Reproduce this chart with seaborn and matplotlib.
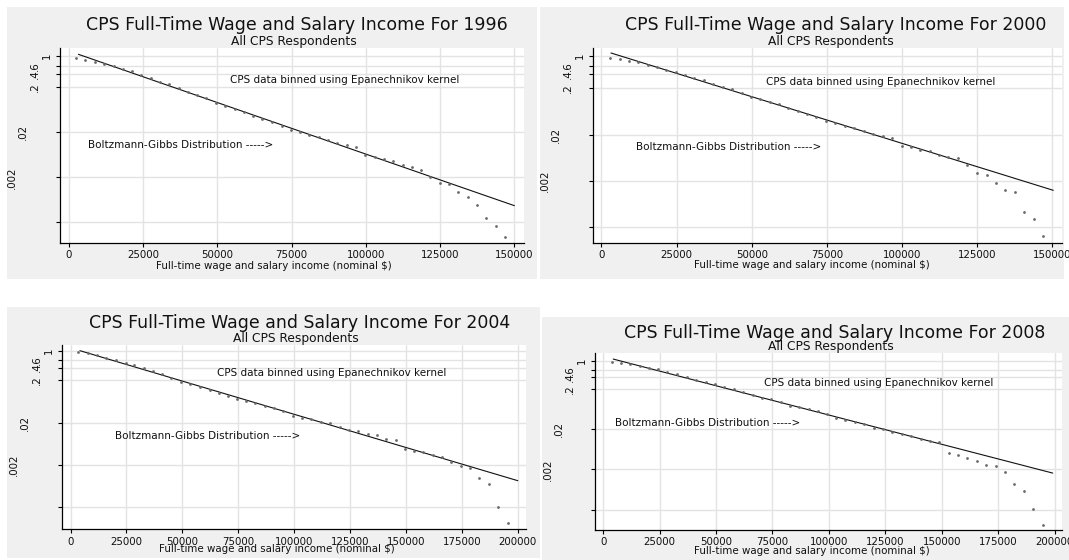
import numpy as np
import pandas as pd
import matplotlib
matplotlib.use("Agg")
import matplotlib.pyplot as plt
import seaborn as sns
from matplotlib.patches import Rectangle
from matplotlib.ticker import NullLocator, FixedLocator

# ---------------- data ----------------
years = ["1996", "2000", "2004", "2008"]

x_1996 = [2300, 5600, 8700, 11900, 15100, 18100, 21200, 24300, 27600, 30700, 33800, 37000,
          40100, 43200, 46300, 49500, 52700, 55800, 59000, 62100, 65200, 68300, 71600, 74700,
          77800, 81000, 84100, 87200, 90400, 93500, 96700, 99800, 103100, 106200, 109300,
          112400, 115500, 118600, 121700, 124900, 128000, 131100, 134300, 137400, 140600,
          143700, 146900]
y_1996 = [0.90, 0.83, 0.75, 0.66, 0.59, 0.52, 0.46, 0.37, 0.33, 0.27, 0.24, 0.19, 0.16, 0.136,
          0.115, 0.090, 0.077, 0.066, 0.057, 0.046, 0.040, 0.034, 0.028, 0.023, 0.0205, 0.0173,
          0.0158, 0.0138, 0.0117, 0.0105, 0.0095, 0.0063, 0.0058, 0.0051, 0.0047, 0.0038, 0.0034,
          0.0030, 0.0020, 0.00153, 0.00146, 0.00097, 0.00075, 0.00048, 0.00025, 0.00017, 0.000097]

x_2000 = [2800, 6100, 9200, 12300, 15400, 18400, 21600, 24700, 27900, 30900, 34000, 37200,
          40400, 43400, 46600, 49700, 52900, 56000, 59100, 62200, 65300, 68500, 71500, 74700,
          77800, 81000, 84000, 87200, 90300, 93500, 96700, 99900, 102900, 106100, 109200,
          112200, 115400, 118600, 121700, 124900, 128100, 131100, 134300, 137500, 140700,
          143800, 146900]
y_2000 = [0.91, 0.85, 0.79, 0.73, 0.64, 0.59, 0.51, 0.45, 0.39, 0.33, 0.30, 0.25, 0.21, 0.19,
          0.161, 0.130, 0.118, 0.103, 0.093, 0.075, 0.066, 0.057, 0.047, 0.040, 0.036, 0.030,
          0.028, 0.0243, 0.0206, 0.0187, 0.0172, 0.0115, 0.0108, 0.0095, 0.0089, 0.0072, 0.0065,
          0.0061, 0.0043, 0.0030, 0.0027, 0.0018, 0.0013, 0.00113, 0.00042, 0.00030, 0.000126]

x_2004 = [3500, 7800, 12000, 16000, 20300, 24600, 28600, 32800, 36900, 40900, 44900, 49400,
          53500, 57800, 62200, 66200, 70200, 74500, 78600, 82600, 86900, 90900, 95100, 99400,
          103500, 107700, 111800, 116000, 120300, 124500, 128500, 132800, 137100, 141200,
          145400, 149500, 153700, 157800, 162000, 166200, 170300, 174600, 178600, 182800,
          186900, 191100, 195400]
y_2004 = [0.95, 0.87, 0.78, 0.68, 0.60, 0.51, 0.47, 0.38, 0.33, 0.276, 0.231, 0.185, 0.166,
          0.141, 0.120, 0.102, 0.087, 0.072, 0.066, 0.057, 0.049, 0.044, 0.038, 0.0282, 0.0258,
          0.0239, 0.0211, 0.0193, 0.0161, 0.0134, 0.0127, 0.0108, 0.0100, 0.0084, 0.0078,
          0.0047, 0.0043, 0.0041, 0.0035, 0.0031, 0.0024, 0.0019, 0.0017, 0.0010, 0.00071,
          0.00020, 0.000084]

x_2008 = [3800, 7900, 12000, 16200, 20300, 24200, 28400, 32600, 37000, 41200, 45400, 49500,
          53700, 57800, 62000, 66200, 70400, 74500, 78700, 82800, 86900, 91000, 95000, 99100,
          103200, 107300, 111400, 115700, 119800, 123900, 128000, 132300, 136400, 140700,
          144800, 148900, 153200, 157300, 161400, 165500, 169700, 173900, 178000, 182200,
          186300, 190400, 194700]
y_2008 = [0.94, 0.89, 0.81, 0.74, 0.66, 0.61, 0.52, 0.46, 0.39, 0.34, 0.30, 0.26, 0.226, 0.194,
          0.164, 0.141, 0.121, 0.114, 0.096, 0.076, 0.071, 0.063, 0.055, 0.049, 0.0385, 0.0344,
          0.0295, 0.0263, 0.0217, 0.0198, 0.0173, 0.0149, 0.0138, 0.0114, 0.0104, 0.0098,
          0.0052, 0.0047, 0.0038, 0.0032, 0.0026, 0.0024, 0.0017, 0.00087, 0.00059, 0.00021,
          0.000085]

# Boltzmann-Gibbs (exponential) fit lines: endpoints
fit_x_1996 = [3240, 150000]
fit_y_1996 = [1.089, 0.000472]
fit_x_2000 = [3180, 150300]
fit_y_2000 = [1.161, 0.00125]
fit_x_2004 = [4200, 200000]
fit_y_2004 = [1.0, 0.000855]
fit_x_2008 = [4400, 199200]
fit_y_2008 = [1.099, 0.00163]

x_ticks_150 = [0, 25000, 50000, 75000, 100000, 125000, 150000]
x_ticks_200 = [0, 25000, 50000, 75000, 100000, 125000, 150000, 175000, 200000]
y_ticks = [1, 0.6, 0.4, 0.2, 0.02, 0.002, 0.0002]
y_tick_labels = ["1", ".6", ".4", ".2", ".02", ".002", ""]

title_fmt = "CPS Full-Time Wage and Salary Income For {}"
subtitle = "All CPS Respondents"
x_label = "Full-time wage and salary income (nominal $)"
note_kernel = "CPS data binned using Epanechnikov kernel"
note_bg = "Boltzmann-Gibbs Distribution ----->"

series = {
    "1996": (x_1996, y_1996, fit_x_1996, fit_y_1996, x_ticks_150),
    "2000": (x_2000, y_2000, fit_x_2000, fit_y_2000, x_ticks_150),
    "2004": (x_2004, y_2004, fit_x_2004, fit_y_2004, x_ticks_200),
    "2008": (x_2008, y_2008, fit_x_2008, fit_y_2008, x_ticks_200),
}

# ---------------- layout (pixels, origin top-left) ----------------
W, H = 1069, 560
layout = {
    "1996": dict(box=(7, 7, 537, 279), ax=(60.2, 48.3, 523.6, 242.7), xlim=(-2900, 153100),
                 ylog=(-4.149, 0.171), title=(296.7, 25), sub=(294.1, 41.7), xlab=(274.3, 266),
                 kern=(54300, 0.29), bg=(6400, 0.0105)),
    "2000": dict(box=(540, 7, 1064, 279), ax=(593, 48.3, 1062, 242.7), xlim=(-2800, 153200),
                 ylog=(-4.035, 0.166), title=(835.3, 25), sub=(831, 41.7), xlab=(812, 265),
                 kern=(54600, 0.279), bg=(11600, 0.011)),
    "2004": dict(box=(7, 307, 540, 558), ax=(61.9, 345, 526.3, 529.3), xlim=(-3850, 203800),
                 ylog=(-4.215, 0.134), title=(300.1, 323.3), sub=(295.8, 338.3), xlab=(276.9, 549.5),
                 kern=(65400, 0.297), bg=(20000, 0.00986)),
    "2008": dict(box=(542, 317, 1069, 560), ax=(595.4, 353.3, 1061.5, 530), xlim=(-3500, 203100),
                 ylog=(-4.20, 0.184), title=(834.4, 332.7), sub=(831, 346.7), xlab=(812, 550.5),
                 kern=(71200, 0.274), bg=(5200, 0.0279)),
}

sns.set_theme(style="white")
plt.rcParams["font.family"] = ["DejaVu Sans"]

fig = plt.figure(figsize=(W / 100, H / 100), dpi=100, facecolor="white")

panel_gray = "#f0f0f0"
grid_col = "#e3e3e3"
pad_pts = [2.8, 11.5, 11.5, 11.5, 19.8, 27.7, 2.0]

for yr in years:
    xs, ys, fx, fy, xt = series[yr]
    L = layout[yr]
    bx0, by0, bx1, by1 = L["box"]
    fig.patches.append(Rectangle((bx0 / W, 1 - by1 / H), (bx1 - bx0) / W, (by1 - by0) / H,
                                 transform=fig.transFigure, facecolor=panel_gray,
                                 edgecolor="none", zorder=-10))
    ax0, ay0, ax1, ay1 = L["ax"]
    ax = fig.add_axes([ax0 / W, 1 - ay1 / H, (ax1 - ax0) / W, (ay1 - ay0) / H])
    ax.set_zorder(5)
    ax.set_facecolor("white")

    df = pd.DataFrame({"income": xs, "density": ys})
    fit = pd.DataFrame({"income": fx, "density": fy})
    sns.scatterplot(data=df, x="income", y="density", ax=ax, color="#6a6a6a", s=4,
                    linewidth=0, marker="o", zorder=3)
    sns.lineplot(data=fit, x="income", y="density", ax=ax, color="#111111", linewidth=0.8,
                 zorder=2)

    ax.set_yscale("log")
    ax.set_xlim(*L["xlim"])
    ax.set_ylim(10 ** L["ylog"][0], 10 ** L["ylog"][1])
    ax.xaxis.set_major_locator(FixedLocator(xt))
    ax.set_xticklabels([str(v) for v in xt])
    ax.yaxis.set_major_locator(FixedLocator(y_ticks))
    ax.yaxis.set_minor_locator(NullLocator())
    ax.set_yticklabels(y_tick_labels, rotation=90, va="center")
    ax.set_xlabel("")
    ax.set_ylabel("")

    ax.grid(True, color=grid_col, linewidth=1.0)
    ax.set_axisbelow(True)
    for s in ["top", "right"]:
        ax.spines[s].set_visible(False)
    for s in ["left", "bottom"]:
        ax.spines[s].set_color("black")
        ax.spines[s].set_linewidth(0.9)

    ax.tick_params(axis="both", which="major", direction="out", length=3.2, width=0.8,
                   color="black", labelsize=7.4, labelcolor="#111111", left=True, bottom=True)
    ax.tick_params(axis="x", pad=2.0)
    for tk, p in zip(ax.yaxis.get_major_ticks(), pad_pts):
        tk.set_pad(p)

    ax.text(L["kern"][0], L["kern"][1], note_kernel, fontsize=7.5, ha="left", va="center",
            color="#111111")
    ax.text(L["bg"][0], L["bg"][1], note_bg, fontsize=7.5, ha="left", va="center",
            color="#111111")

    fig.text(L["title"][0] / W, 1 - L["title"][1] / H, title_fmt.format(yr), fontsize=12.5,
             ha="center", va="center", color="#111111")
    fig.text(L["sub"][0] / W, 1 - L["sub"][1] / H, subtitle, fontsize=8.8,
             ha="center", va="center", color="#111111")
    fig.text(L["xlab"][0] / W, 1 - L["xlab"][1] / H, x_label, fontsize=7.4,
             ha="center", va="center", color="#111111")

fig.savefig("out.png", dpi=100, facecolor="white")
